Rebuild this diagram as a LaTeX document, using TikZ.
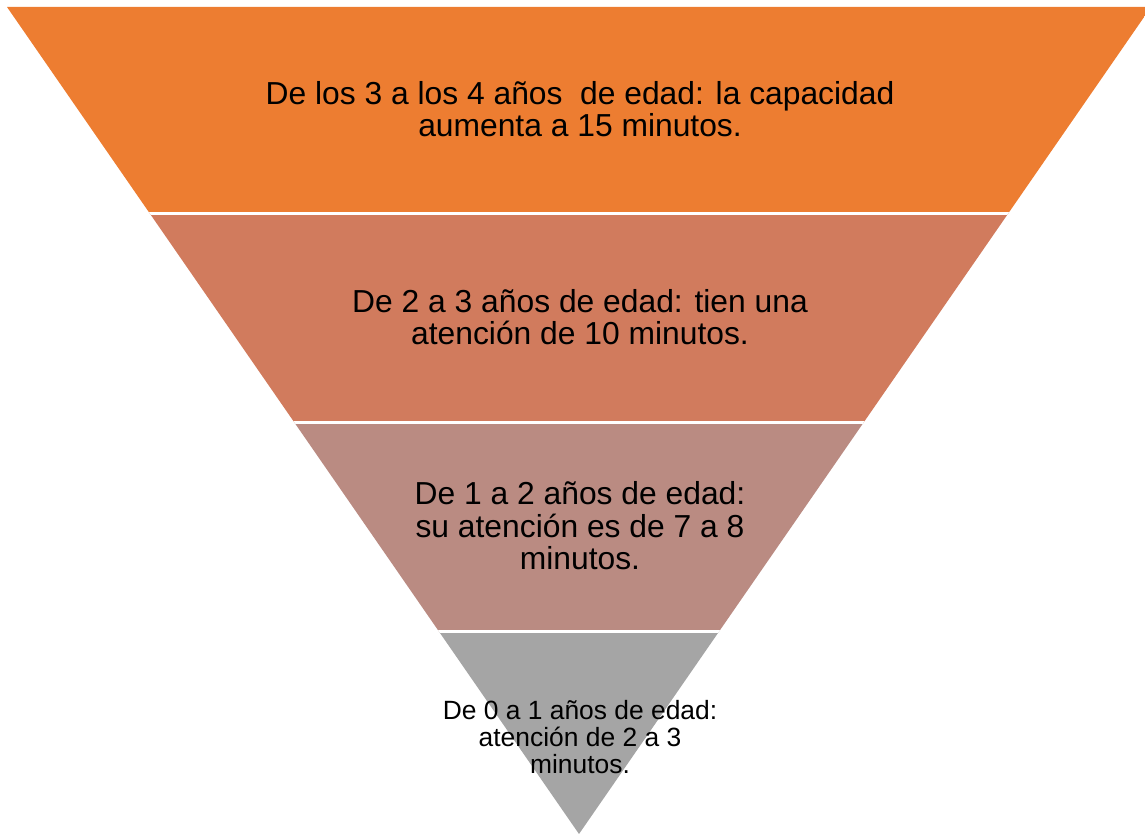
\documentclass[tikz,border=0pt]{standalone}
\usepackage{fontspec}
\setmainfont{Liberation Sans}
\usepackage{xcolor}
\usetikzlibrary{calc}

\definecolor{nivelA}{RGB}{237,125,49}
\definecolor{nivelB}{RGB}{209,123,93}
\definecolor{nivelC}{RGB}{186,139,130}
\definecolor{nivelD}{RGB}{165,165,165}

\begin{document}
\begin{tikzpicture}[
x=0.5pt,y=-0.5pt,
n1/.style={fill=nivelA},
n2/.style={fill=nivelB},
n3/.style={fill=nivelC},
n4/.style={fill=nivelD},
corte/.style={white, line width=1.6pt},
txt/.style={align=center, text=black, font=\fontsize{15.9}{16.3}\selectfont},
txtp/.style={align=center, text=black, font=\fontsize{13.2}{13.7}\selectfont},
]
\useasboundingbox (0,0) rectangle (1145,834);

%vertices of the funnel
\coordinate (TL) at (7,7);
\coordinate (TR) at (1151,7);
\coordinate (A)  at (579,834);

\begin{scope}
\clip (TL) -- (TR) -- (A) -- cycle;
\fill[n1] (0,0)   rectangle (1160,213.5);
\fill[n2] (0,213.5) rectangle (1160,422.5);
\fill[n3] (0,422.5) rectangle (1160,631.5);
\fill[n4] (0,631.5) rectangle (1160,840);
\draw[corte] (0,213.5) -- (1160,213.5);
\draw[corte] (0,422.5) -- (1160,422.5);
\draw[corte] (0,631.5) -- (1160,631.5);
\end{scope}

%labels
\node (t1)[txt]  at (580,109) {De los 3 a los 4 años\ \ de edad: la capacidad\\aumenta a 15 minutos.};
\node (t2)[txt]  at (580,317) {De 2 a 3 años de edad: tien una\\atención de 10 minutos.};
\node (t3)[txt]  at (580,526) {De 1 a 2 años de edad:\\su atención es de 7 a 8\\minutos.};
\node (t4)[txtp] at (580,737) {De 0 a 1 años de edad:\\atención de 2 a 3\\minutos.};

\end{tikzpicture}
\end{document}
